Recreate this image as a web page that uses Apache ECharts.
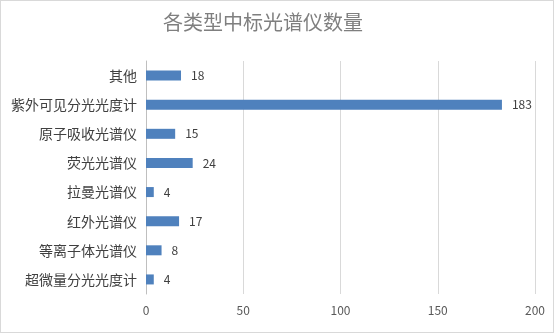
<!DOCTYPE html>
<html><head><meta charset="utf-8">
<script src="https://cdn.jsdelivr.net/npm/echarts@6/dist/echarts.min.js"></script>
<style>html,body{margin:0;padding:0;background:#fff}#c{width:554px;height:333px;box-sizing:border-box;border:1px solid #d9d9d9}</style>
</head><body><div id="c"></div>
<script>
const categories = ['其他','紫外可见分光光度计','原子吸收光谱仪','荧光光谱仪','拉曼光谱仪','红外光谱仪','等离子体光谱仪','超微量分光光度计'];
const values = [18,183,15,24,4,17,8,4];
const titleText = '各类型中标光谱仪数量';
const chart = echarts.init(document.getElementById('c'));
const font = '"Noto Sans CJK SC", sans-serif';
chart.setOption({
  animation:false,
  title:{text:titleText,left:257,top:6,textAlign:'center',textStyle:{fontFamily:font,fontWeight:'normal',fontSize:20,color:'#7f7f7f'}},
  grid:{left:145,right:18,top:60,bottom:38,containLabel:false},
  xAxis:{type:'value',min:0,max:200,interval:50,
    axisLine:{show:false},axisTick:{show:false},
    splitLine:{lineStyle:{color:'#d9d9d9'}},
    axisLabel:{color:'#595959',fontFamily:font,fontSize:12,margin:10}},
  yAxis:{type:'category',data:categories,inverse:true,
    axisLine:{show:true,lineStyle:{color:'#bfbfbf'}},axisTick:{show:false},
    axisLabel:{color:'#404040',fontFamily:font,fontSize:14,margin:9}},
  series:[{type:'bar',data:values,barWidth:10,
    itemStyle:{color:'#4f81bd'},
    label:{show:true,position:'right',distance:10,color:'#404040',fontFamily:font,fontSize:12}}]
});
</script></body></html>
